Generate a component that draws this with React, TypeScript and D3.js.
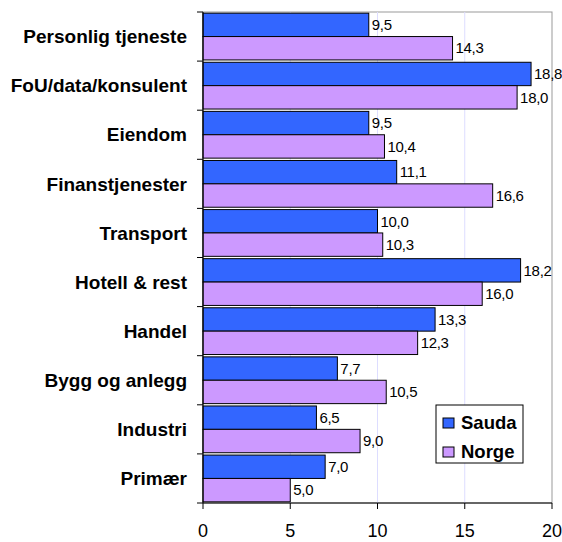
import React, { useEffect, useRef } from 'react';
import * as d3 from 'd3';

const categories = [
  'Personlig tjeneste',
  'FoU/data/konsulent',
  'Eiendom',
  'Finanstjenester',
  'Transport',
  'Hotell & rest',
  'Handel',
  'Bygg og anlegg',
  'Industri',
  'Primær',
];
const sauda = [9.5, 18.8, 9.5, 11.1, 10.0, 18.2, 13.3, 7.7, 6.5, 7.0];
const norge = [14.3, 18.0, 10.4, 16.6, 10.3, 16.0, 12.3, 10.5, 9.0, 5.0];
const seriesNames = ['Sauda', 'Norge'];
const colors = ['#3366ff', '#cc99ff'];
const xTicks = [0, 5, 10, 15, 20];

const App: React.FC = () => {
  const ref = useRef<SVGSVGElement>(null);

  useEffect(() => {
    if (!ref.current) return;
    const svg = d3.select(ref.current);
    svg.selectAll('*').remove();

    const left = 203, right = 552, top = 12, bottom = 503;
    const font = 'Arial, "Liberation Sans", sans-serif';

    const x = d3.scaleLinear().domain([0, 20]).range([left, right]);
    const y = d3.scaleBand().domain(categories).range([top, bottom]);
    const inner = d3.scaleBand().domain(seriesNames).range([0, y.bandwidth()]).paddingOuter(0.05);

    // plot border (top/right)
    svg.append('rect')
      .attr('x', left).attr('y', top)
      .attr('width', right - left).attr('height', bottom - top)
      .attr('fill', 'white').attr('stroke', '#999').attr('stroke-width', 1);

    // gridlines
    svg.append('g').selectAll('line')
      .data(xTicks.slice(1, -1))
      .join('line')
      .attr('x1', d => x(d)).attr('x2', d => x(d))
      .attr('y1', top).attr('y2', bottom)
      .attr('stroke', '#ddddff').attr('stroke-width', 1);

    const rows = categories.map((c, i) => ({ c, vals: [sauda[i], norge[i]] }));

    const g = svg.append('g');
    rows.forEach(row => {
      row.vals.forEach((v, j) => {
        const yy = (y(row.c) ?? 0) + (inner(seriesNames[j]) ?? 0);
        g.append('rect')
          .attr('x', x(0)).attr('y', yy)
          .attr('width', x(v) - x(0)).attr('height', inner.bandwidth())
          .attr('fill', colors[j]).attr('stroke', '#000').attr('stroke-width', 1);
        g.append('text')
          .attr('x', x(v) + 3).attr('y', yy + inner.bandwidth() / 2)
          .attr('dy', '0.35em')
          .attr('font-family', font).attr('font-size', 15)
          .attr('letter-spacing', -0.3)
          .text(v.toFixed(1).replace('.', ','));
      });
    });

    // left axis
    svg.append('line')
      .attr('x1', left).attr('x2', left).attr('y1', top).attr('y2', bottom)
      .attr('stroke', '#000');
    const boundaries = d3.range(categories.length + 1).map(i => top + i * y.step());
    svg.append('g').selectAll('line')
      .data(boundaries)
      .join('line')
      .attr('x1', left - 6).attr('x2', left)
      .attr('y1', d => d).attr('y2', d => d)
      .attr('stroke', '#000');
    svg.append('g').selectAll('text')
      .data(categories)
      .join('text')
      .attr('x', 187)
      .attr('y', d => (y(d) ?? 0) + y.bandwidth() / 2)
      .attr('dy', '0.35em')
      .attr('text-anchor', 'end')
      .attr('font-family', font).attr('font-size', 19).attr('font-weight', 'bold')
      .text(d => d);

    // bottom axis
    svg.append('line')
      .attr('x1', left).attr('x2', right).attr('y1', bottom).attr('y2', bottom)
      .attr('stroke', '#000');
    svg.append('g').selectAll('line')
      .data(xTicks)
      .join('line')
      .attr('x1', d => x(d)).attr('x2', d => x(d))
      .attr('y1', bottom).attr('y2', bottom + 6)
      .attr('stroke', '#000');
    svg.append('g').selectAll('text')
      .data(xTicks)
      .join('text')
      .attr('x', d => x(d)).attr('y', 537)
      .attr('text-anchor', 'middle')
      .attr('font-family', font).attr('font-size', 18)
      .text(d => d);

    // legend
    const lg = svg.append('g').attr('transform', 'translate(436,405)');
    lg.append('rect')
      .attr('width', 87).attr('height', 58)
      .attr('fill', 'white').attr('stroke', '#000');
    seriesNames.forEach((n, i) => {
      lg.append('rect')
        .attr('x', 7).attr('y', 18 + i * 29 - 5)
        .attr('width', 11).attr('height', 10)
        .attr('fill', colors[i]).attr('stroke', '#000');
      lg.append('text')
        .attr('x', 25).attr('y', 18 + i * 29)
        .attr('dy', '0.35em')
        .attr('font-family', font).attr('font-size', 18.5).attr('font-weight', 'bold')
        .text(n);
    });
  }, []);

  return (
    <svg
      ref={ref}
      width={562}
      height={542}
      style={{ position: 'absolute', left: 0, top: 0, background: 'white' }}
    />
  );
};

export default App;
